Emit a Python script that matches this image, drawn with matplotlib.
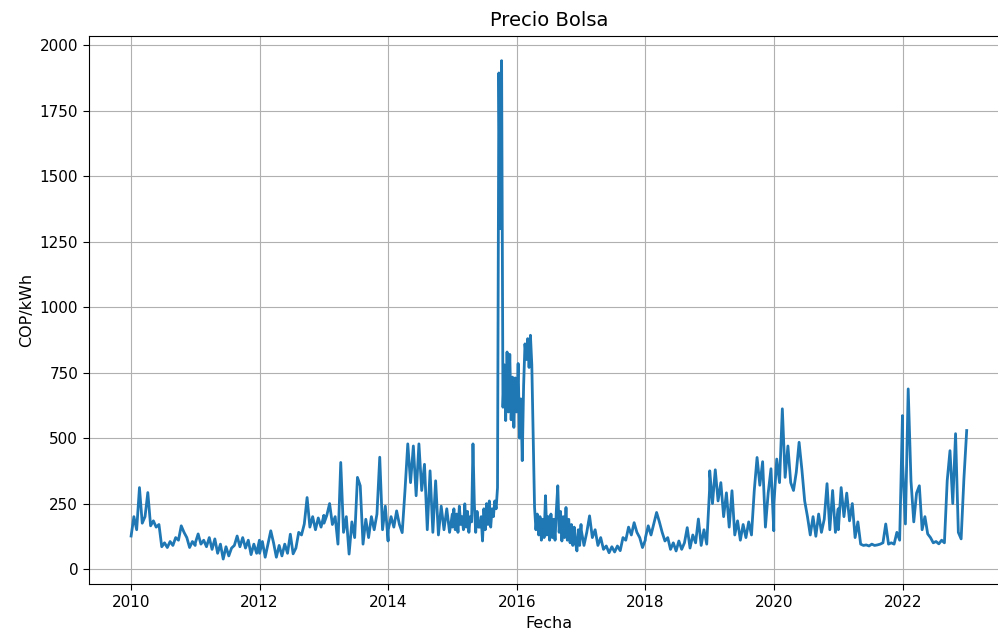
import matplotlib
matplotlib.use("Agg")
import matplotlib.pyplot as plt
import pandas as pd

# Precio de bolsa (COP/kWh), lecturas quincenales; 2015 y 2016 semanales
p2010 = [126, 200, 150, 311, 175, 200, 292, 165, 184, 160, 170, 85,
         100, 82, 105, 90, 120, 110, 165, 140, 120, 82, 105, 90]
p2011 = [100, 134, 95, 110, 85, 120, 75, 115, 60, 95, 38, 85,
         50, 80, 90, 126, 85, 120, 80, 110, 55, 95, 60, 110]
p2012 = [60, 105, 45, 95, 146, 100, 45, 90, 50, 95, 60, 133,
         58, 80, 140, 130, 172, 273, 160, 200, 150, 195, 160, 205]
p2013 = [175, 205, 250, 170, 200, 95, 407, 140, 200, 57, 180, 120,
         350, 318, 95, 190, 120, 200, 150, 210, 427, 150, 240, 107]
p2014 = [150, 200, 160, 222, 170, 139, 300, 478, 330, 470, 280, 478,
         300, 400, 150, 375, 140, 337, 130, 240, 150, 230, 140, 210]
p2015 = [160, 230, 150, 210, 140, 240, 170, 200, 150, 249, 160, 220,
         140, 200, 180, 478, 250, 140, 220, 160, 160, 200, 107, 230,
         150, 250, 170, 260, 160, 230, 200, 260, 230, 311, 1895, 1300,
         1942, 618, 780, 567, 829, 600, 820, 570, 733, 541, 730, 600]
p2016 = [600, 785, 500, 650, 414, 700, 860, 800, 880, 770, 893, 780,
         500, 236, 150, 210, 130, 200, 110, 190, 120, 280, 130, 200,
         110, 210, 120, 190, 110, 230, 318, 140, 220, 107, 200, 120,
         235, 110, 190, 100, 170, 90, 160, 100, 69, 150, 90, 170]
p2017 = [150, 90, 140, 203, 120, 150, 90, 120, 75, 88, 62, 85,
         65, 88, 70, 120, 110, 160, 130, 177, 140, 120, 82, 110]
p2018 = [120, 165, 130, 173, 216, 180, 140, 107, 120, 75, 100, 69,
         107, 75, 100, 158, 80, 130, 100, 191, 90, 150, 95, 300]
p2019 = [375, 250, 379, 260, 330, 200, 291, 160, 299, 130, 184, 110,
         170, 120, 180, 130, 300, 426, 320, 410, 160, 291, 383, 146]
p2020 = [250, 420, 330, 612, 350, 470, 330, 300, 370, 484, 380, 260,
         200, 130, 200, 125, 210, 140, 190, 326, 150, 300, 140, 230]
p2021 = [150, 311, 200, 290, 184, 250, 120, 180, 95, 90, 92, 88,
         95, 90, 92, 95, 100, 172, 95, 100, 95, 140, 110, 586]
p2022 = [400, 172, 688, 337, 180, 290, 318, 150, 200, 134, 120, 100,
         105, 96, 110, 100, 337, 452, 250, 517, 140, 115, 345, 529]

years = list(range(2010, 2023))
series = [p2010, p2011, p2012, p2013, p2014, p2015, p2016,
          p2017, p2018, p2019, p2020, p2021, p2022]

dates = []
values = []
for year, vals in zip(years, series):
    dates.extend(pd.date_range(f"{year}-01-01", f"{year}-12-31", periods=len(vals)))
    values.extend(vals)

df = pd.DataFrame({"Fecha": dates, "Precio": values})

fig = plt.figure(figsize=(9.98, 6.36), dpi=100)
# el eje sigue mas alla del borde derecho de la figura
ax = fig.add_axes([0.0895, 0.0818, 0.921, 0.862])
ax.plot(df["Fecha"], df["Precio"], color="#1f77b4", linewidth=2.0)

ax.set_title("Precio Bolsa", fontsize=14, pad=7)
ax.set_xlabel("Fecha", fontsize=11.5, labelpad=4)
ax.set_ylabel("COP/kWh", fontsize=11.5, labelpad=4)
ax.grid(True)
ax.spines["right"].set_visible(False)
ax.tick_params(labelsize=11, length=4, pad=4)

fig.savefig("out.png", dpi=100)
